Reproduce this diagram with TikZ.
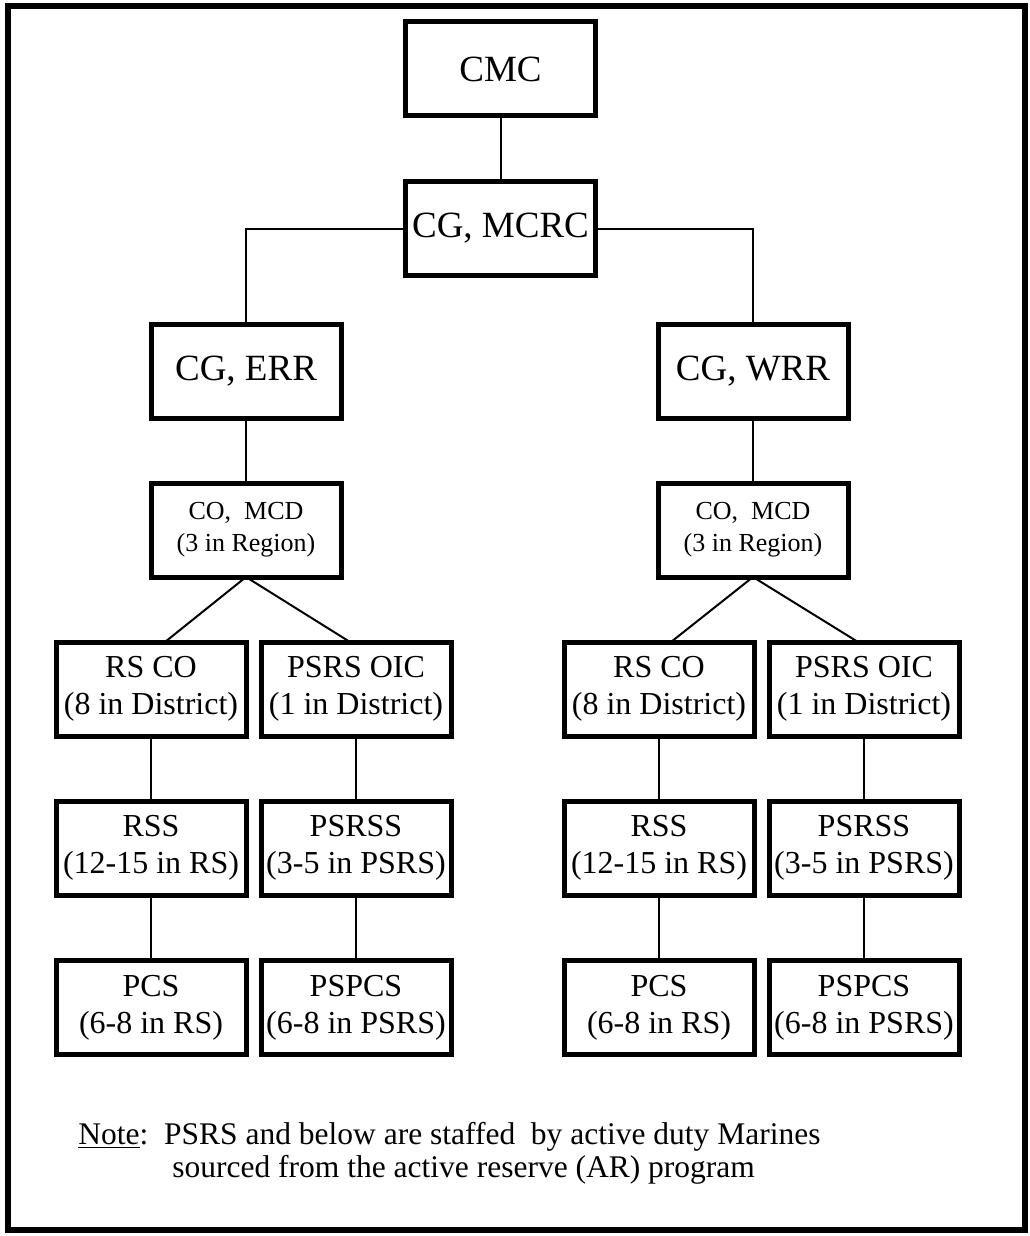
\documentclass[tikz,border=0pt]{standalone}
\usepackage{fontspec}
\setmainfont{Liberation Serif}
\usepackage{tikz}
\tikzstyle{unit}=[draw,line width=2.5pt,minimum width=95pt,minimum height=47pt,inner sep=0pt,outer sep=0pt,align=center]
\tikzstyle{topbox}=[unit,font=\fontsize{18.5}{22}\selectfont]
\tikzstyle{mcdbox}=[unit,font=\fontsize{13}{16}\selectfont]
\tikzstyle{subbox}=[unit,font=\fontsize{16}{18.5}\selectfont]
\tikzstyle{tie}=[line width=1pt]
\tikzstyle{notetext}=[anchor=base west,inner sep=0pt,font=\fontsize{15.75}{18}\selectfont]

\begin{document}
\begin{tikzpicture}[x=0.5pt,y=-0.5pt]
	\useasboundingbox (0,0) rectangle (1029,1236);
	\draw[line width=3pt] (8,6) rectangle (1025,1230);
	% command
	\node[topbox] (cmc)  at (500.5,69)    {CMC};
	\node[topbox] (mcrc) at (500.5,228.5) {CG, MCRC};
	\node[topbox] (err)  at (246,371.5)   {CG, ERR};
	\node[topbox] (wrr)  at (753,371.5)   {CG, WRR};
	\node[mcdbox] (mcd-e) at (246,530) {CO,\ \ MCD\\(3 in Region)};
	\node[mcdbox] (mcd-w) at (753,530) {CO,\ \ MCD\\(3 in Region)};
	% eastern region
	\node[subbox] (rs-e)    at (151,689)    {RS CO\\(8 in District)};
	\node[subbox] (psrs-e)  at (356,689)    {PSRS OIC\\(1 in District)};
	\node[subbox] (rss-e)   at (151,848)    {RSS\\(12-15 in RS)};
	\node[subbox] (psrss-e) at (356,848)    {PSRSS\\(3-5 in PSRS)};
	\node[subbox] (pcs-e)   at (151,1007.5) {PCS\\(6-8 in RS)};
	\node[subbox] (pspcs-e) at (356,1007.5) {PSPCS\\(6-8 in PSRS)};
	% western region
	\node[subbox] (rs-w)    at (659,689)    {RS CO\\(8 in District)};
	\node[subbox] (psrs-w)  at (864,689)    {PSRS OIC\\(1 in District)};
	\node[subbox] (rss-w)   at (659,848)    {RSS\\(12-15 in RS)};
	\node[subbox] (psrss-w) at (864,848)    {PSRSS\\(3-5 in PSRS)};
	\node[subbox] (pcs-w)   at (659,1007.5) {PCS\\(6-8 in RS)};
	\node[subbox] (pspcs-w) at (864,1007.5) {PSPCS\\(6-8 in PSRS)};
	% links
	\draw[tie] (cmc) -- (mcrc);
	\draw[tie] (mcrc.west) -| (err.north);
	\draw[tie] (mcrc.east) -| (wrr.north);
	\draw[tie] (err) -- (mcd-e);
	\draw[tie] (wrr) -- (mcd-w);
	\draw[tie] (mcd-e.south) -- ([xshift=7pt]rs-e.north);
	\draw[tie] (mcd-e.south) -- ([xshift=-3pt]psrs-e.north);
	\draw[tie] (mcd-w.south) -- ([xshift=6pt]rs-w.north);
	\draw[tie] (mcd-w.south) -- ([xshift=-3pt]psrs-w.north);
	\draw[tie] (rs-e) -- (rss-e) -- (pcs-e);
	\draw[tie] (psrs-e) -- (psrss-e) -- (pspcs-e);
	\draw[tie] (rs-w) -- (rss-w) -- (pcs-w);
	\draw[tie] (psrs-w) -- (psrss-w) -- (pspcs-w);
	% note
	\node[notetext] (note)  at (78,1144)  {\underline{Note}:\ \ PSRS and below are staffed\ \ by active duty Marines};
	\node[notetext] (note2) at (172,1177) {sourced from the active reserve (AR) program};
\end{tikzpicture}
\end{document}
